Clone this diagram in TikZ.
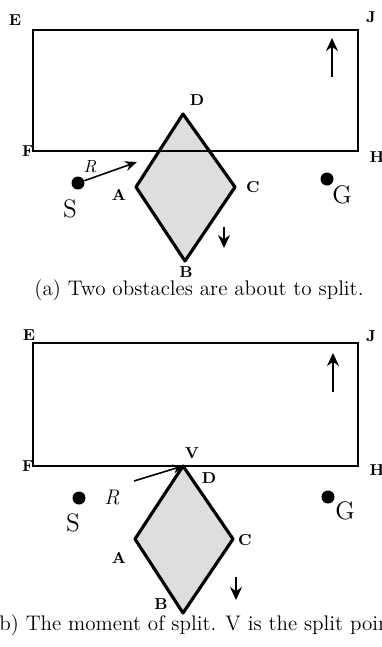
\documentclass[tikz,border=0pt]{standalone}
\usepackage{amsmath,amssymb}
\usepackage{tikz}
\usetikzlibrary{arrows.meta,positioning,calc}
\usepackage{xcolor}
\definecolor{stipple}{RGB}{222,222,222}
\tikzset{
    obstacle/.style={
        draw,
        line width=0.9pt
    },
    robot/.style={
        draw,
        line join=round,
        line width=1.8pt,
        fill=stipple
    },
    corner/.style={
        font=\small\bfseries,
        inner sep=0pt
    },
    pointdot/.style={
        circle,
        fill,
        inner sep=0pt,
        minimum size=0.26cm
    },
    bigletter/.style={
        font=\Large,
        inner sep=0pt
    },
    motion/.style={
        -{Stealth[length=2.6mm,width=2.4mm]},
        line width=0.9pt
    },
    caption/.style={
        font=\fontsize{12}{14}\selectfont,
        inner sep=0pt
    }
}

\begin{document}
\begin{tikzpicture}[x=0.2mm,y=-0.2mm]
    \useasboundingbox (0,0) rectangle (382,647);

    % (a) Before split
    \coordinate (aD) at (183,114);
    \coordinate (aA) at (136,187);
    \coordinate (aB) at (185,261);
    \coordinate (aC) at (235,187);
    \fill[stipple] (aD) -- (aC) -- (aB) -- (aA) -- cycle;
    \draw[obstacle] (33,30) rectangle (358,151);
    \draw[robot, fill=none] (aD) -- (aC) -- (aB) -- (aA) -- cycle;
    \node[corner] (aE) at (15,20) {E};
    \node[corner] (aJ) at (371,17) {J};
    \node[corner] (aF) at (28,151) {F};
    \node[corner] (aH) at (377,157) {H};
    \node[corner] (aDl) at (197,100) {D};
    \node[corner] (aAl) at (119,195) {A};
    \node[corner] (aCl) at (253,187) {C};
    \node[corner] (aBl) at (186,272) {B};
    \coordinate (aUp0) at (332,77);
    \coordinate (aUp1) at (332,38);
    \draw[motion] (aUp0) -- (aUp1);
    \coordinate (aDn0) at (224,227);
    \coordinate (aDn1) at (224,248);
    \draw[motion] (aDn0) -- (aDn1);
    \node[pointdot] (aS) at (78,183) {};
    \node[bigletter] (aSl) at (70,209) {S};
    \node[pointdot] (aG) at (327,179) {};
    \node[bigletter] (aGl) at (342,195) {G};
    \coordinate (aRtip) at (137,162);
    \draw[motion, -{Stealth[length=2.4mm,width=2mm]}] (aS) -- (aRtip);
    \node[font=\normalsize\itshape, inner sep=0pt] (aR) at (90,167) {R};
    \node[caption, anchor=base] (capa) at (199,295) {(a) Two obstacles are about to split.};

    % (b) The moment of split
    \coordinate (bD) at (183,466);
    \coordinate (bA) at (135,539);
    \coordinate (bB) at (183,613);
    \coordinate (bC) at (233,539);
    \fill[stipple] (bD) -- (bC) -- (bB) -- (bA) -- cycle;
    \draw[obstacle] (33,343) rectangle (358,466);
    \draw[robot, fill=none] (bD) -- (bC) -- (bB) -- (bA) -- cycle;
    \node[corner] (bE) at (29,335) {E};
    \node[corner] (bJ) at (371,336) {J};
    \node[corner] (bF) at (28,466) {F};
    \node[corner] (bH) at (377,470) {H};
    \node[corner] (bV) at (192,453) {V};
    \node[corner] (bDl) at (209,478) {D};
    \node[corner] (bAl) at (119,558) {A};
    \node[corner] (bCl) at (245,540) {C};
    \node[corner] (bBl) at (161,604) {B};
    \coordinate (bUp0) at (333,392);
    \coordinate (bUp1) at (333,353);
    \draw[motion] (bUp0) -- (bUp1);
    \coordinate (bDn0) at (236,577);
    \coordinate (bDn1) at (236,600);
    \draw[motion] (bDn0) -- (bDn1);
    \node[pointdot] (bS) at (79,498) {};
    \node[bigletter] (bSl) at (73,523) {S};
    \node[pointdot] (bG) at (328,497) {};
    \node[bigletter] (bGl) at (345,511) {G};
    \coordinate (bRtail) at (134,481);
    \draw[motion, -{Stealth[length=2mm,width=1.8mm]}] (bRtail) -- (bD);
    \node[font=\large\itshape, inner sep=0pt] (bR) at (112,498) {R};
    \node[caption, anchor=base west] (capb) at (-9,630) {(b) The moment of split. V is the split point.};
\end{tikzpicture}
\end{document}
